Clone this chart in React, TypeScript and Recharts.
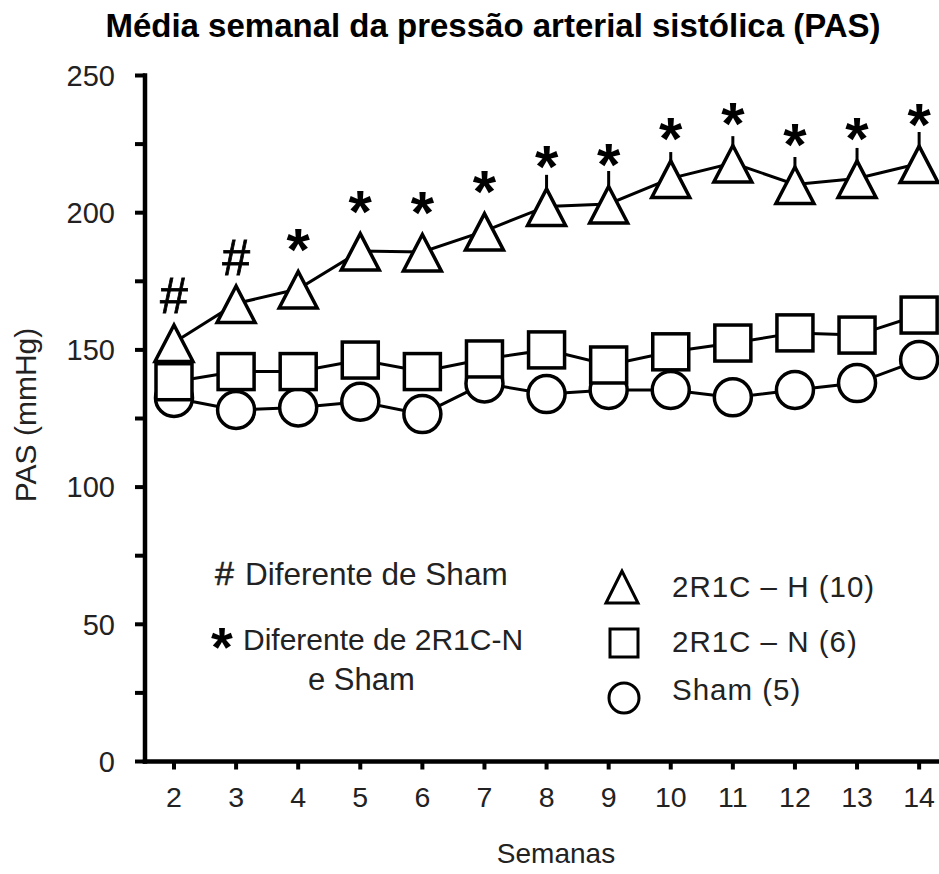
import { LineChart, Line, XAxis, YAxis, ErrorBar, LabelList, Legend, Label, Customized } from "recharts";

document.body.style.margin = "0";
document.body.style.overflow = "hidden";

const weeks = [2, 3, 4, 5, 6, 7, 8, 9, 10, 11, 12, 13, 14];
const hMean = [152.7, 166.9, 172.2, 186.0, 185.7, 193.3, 202.3, 203.2, 212.5, 218.1, 210.3, 212.5, 217.9];
const hUpperErr = [5, 5, 5, 5, 5, 5, 11.5, 12, 9.6, 9.8, 10, 11.1, 11.5];
const nMean = [138.4, 142.1, 142.1, 146.3, 142.1, 146.7, 150.0, 144.5, 149.3, 152.5, 156.2, 155.4, 162.7];
const shamMean = [132.5, 128.1, 129.0, 131.1, 126.6, 137.8, 133.9, 135.4, 135.4, 132.7, 135.4, 137.9, 146.3];
const marks = ["#", "#", "*", "*", "*", "*", "*", "*", "*", "*", "*", "*", "*"];
const yTicks = [0, 25, 50, 75, 100, 125, 150, 175, 200, 225, 250];

const data = weeks.map((week, i) => ({
  week,
  h: hMean[i],
  hErr: [0, hUpperErr[i]],
  n: nMean[i],
  sham: shamMean[i],
  mark: marks[i],
}));

const FONT = '"Liberation Sans", Arial, Helvetica, sans-serif';
const TXT = "#222";

const Tri = (p: any) => {
  const { cx, cy, index } = p;
  if (cx == null || cy == null) return <g key={index} />;
  return (
    <polygon key={index} points={`${cx},${cy - 17.5} ${cx - 19},${cy + 19} ${cx + 19},${cy + 19}`}
      fill="#fff" stroke="#000" strokeWidth={3.5} strokeLinejoin="miter" />
  );
};

const Sq = (p: any) => {
  const { cx, cy, index } = p;
  if (cx == null || cy == null) return <g key={index} />;
  return <rect key={index} x={cx - 18} y={cy - 18} width={36} height={36} fill="#fff" stroke="#000" strokeWidth={3.5} />;
};

const Circ = (p: any) => {
  const { cx, cy, index } = p;
  if (cx == null || cy == null) return <g key={index} />;
  return <circle key={index} cx={cx} cy={cy} r={18.5} fill="#fff" stroke="#000" strokeWidth={3.5} />;
};

// # and * marks above the 2R1C-H points
const renderMark = (p: any) => {
  const { x, y, value } = p;
  if (value === "#") {
    return <text x={x} y={y - 29} textAnchor="middle" fontFamily={FONT} fontSize={50} fill="#000" stroke="#000" strokeWidth={0.8}>#</text>;
  }
  return <text x={x} y={y - 19} textAnchor="middle" fontFamily={FONT} fontSize={60} fontWeight="bold" fill="#000">*</text>;
};

const renderLegend = () => (
  <svg width={320} height={160} style={{ display: "block" }}>
    <polygon points="22,11 6,43 38,43" fill="#fff" stroke="#000" strokeWidth={3} />
    <rect x={10} y={69} width={28} height={28} fill="#fff" stroke="#000" strokeWidth={3} />
    <circle cx={24} cy={138} r={15} fill="#fff" stroke="#000" strokeWidth={3} />
    <g fontFamily={FONT} fontSize={29.5} fill={TXT} letterSpacing={1}>
      <text x={72} y={37}>2R1C – H (10)</text>
      <text x={72} y={92}>2R1C – N (6)</text>
      <text x={72} y={140}>Sham (5)</text>
    </g>
  </svg>
);

const Notes = () => (
  <g fontFamily={FONT} fill={TXT}>
    <text x={493} y={37} textAnchor="middle" fontSize={33} fontWeight="bold" fill="#000">
      Média semanal da pressão arterial sistólica (PAS)
    </text>
    <text x={215} y={585} fontSize={34} stroke={TXT} strokeWidth={0.6}>#</text>
    <text x={245} y={585} fontSize={31.5}>Diferente de Sham</text>
    <text x={222} y={666} textAnchor="middle" fontSize={56} fontWeight="bold" fill="#000">*</text>
    <text x={243} y={650} fontSize={30}>Diferente de 2R1C-N</text>
    <text x={308} y={690} fontSize={31}>e Sham</text>
  </g>
);

export default function App() {
  return (
    <div style={{ position: "relative", width: 939, height: 874, background: "#fff" }}>
      <LineChart width={939} height={874} data={data} margin={{ top: 75.5, right: 0, bottom: 0, left: 0 }}>
        <XAxis
          dataKey="week"
          type="number"
          domain={[1.533, 14.32]}
          ticks={weeks}
          interval={0}
          allowDataOverflow
          height={112.5}
          axisLine={{ stroke: "#000", strokeWidth: 4.5, strokeLinecap: "square" }}
          tickLine={{ stroke: "#000", strokeWidth: 4 }}
          tickSize={8}
          tickMargin={17.5}
          tick={{ fill: TXT, fontSize: 28.5, fontFamily: FONT }}
        >
          <Label
            content={() => (
              <text x={556} y={863} textAnchor="middle" fontFamily={FONT} fontSize={28} fill={TXT}>Semanas</text>
            )}
          />
        </XAxis>
        <YAxis
          type="number"
          domain={[0, 250]}
          ticks={yTicks}
          interval={0}
          width={145}
          axisLine={{ stroke: "#000", strokeWidth: 4.5, strokeLinecap: "square" }}
          tickLine={{ stroke: "#000", strokeWidth: 4 }}
          tickSize={10}
          tickMargin={20}
          tickFormatter={(v: number) => (v % 50 === 0 ? String(v) : "")}
          tick={{ fill: TXT, fontSize: 29, fontFamily: FONT }}
        >
          <Label
            content={() => (
              <text x={36} y={415} transform="rotate(-90 36 415)" textAnchor="middle" fontFamily={FONT} fontSize={30} fill={TXT}>
                PAS (mmHg)
              </text>
            )}
          />
        </YAxis>
        <Legend layout="horizontal" verticalAlign="middle" align="center" content={renderLegend}
          wrapperStyle={{ left: 600, top: 560, width: 320, height: 160 }} />
        <Line dataKey="sham" stroke="#000" strokeWidth={3} dot={Circ} activeDot={false} isAnimationActive={false} />
        <Line dataKey="h" stroke="#000" strokeWidth={3} dot={false} activeDot={false} isAnimationActive={false}>
          <ErrorBar dataKey="hErr" direction="y" width={0} stroke="#000" strokeWidth={3} />
        </Line>
        <Line dataKey="n" stroke="#000" strokeWidth={3} dot={Sq} activeDot={false} isAnimationActive={false} />
        <Line dataKey="h" stroke="none" dot={Tri} activeDot={false} isAnimationActive={false}>
          <LabelList dataKey="mark" content={renderMark} />
        </Line>
        <Customized component={Notes} />
      </LineChart>
    </div>
  );
}
